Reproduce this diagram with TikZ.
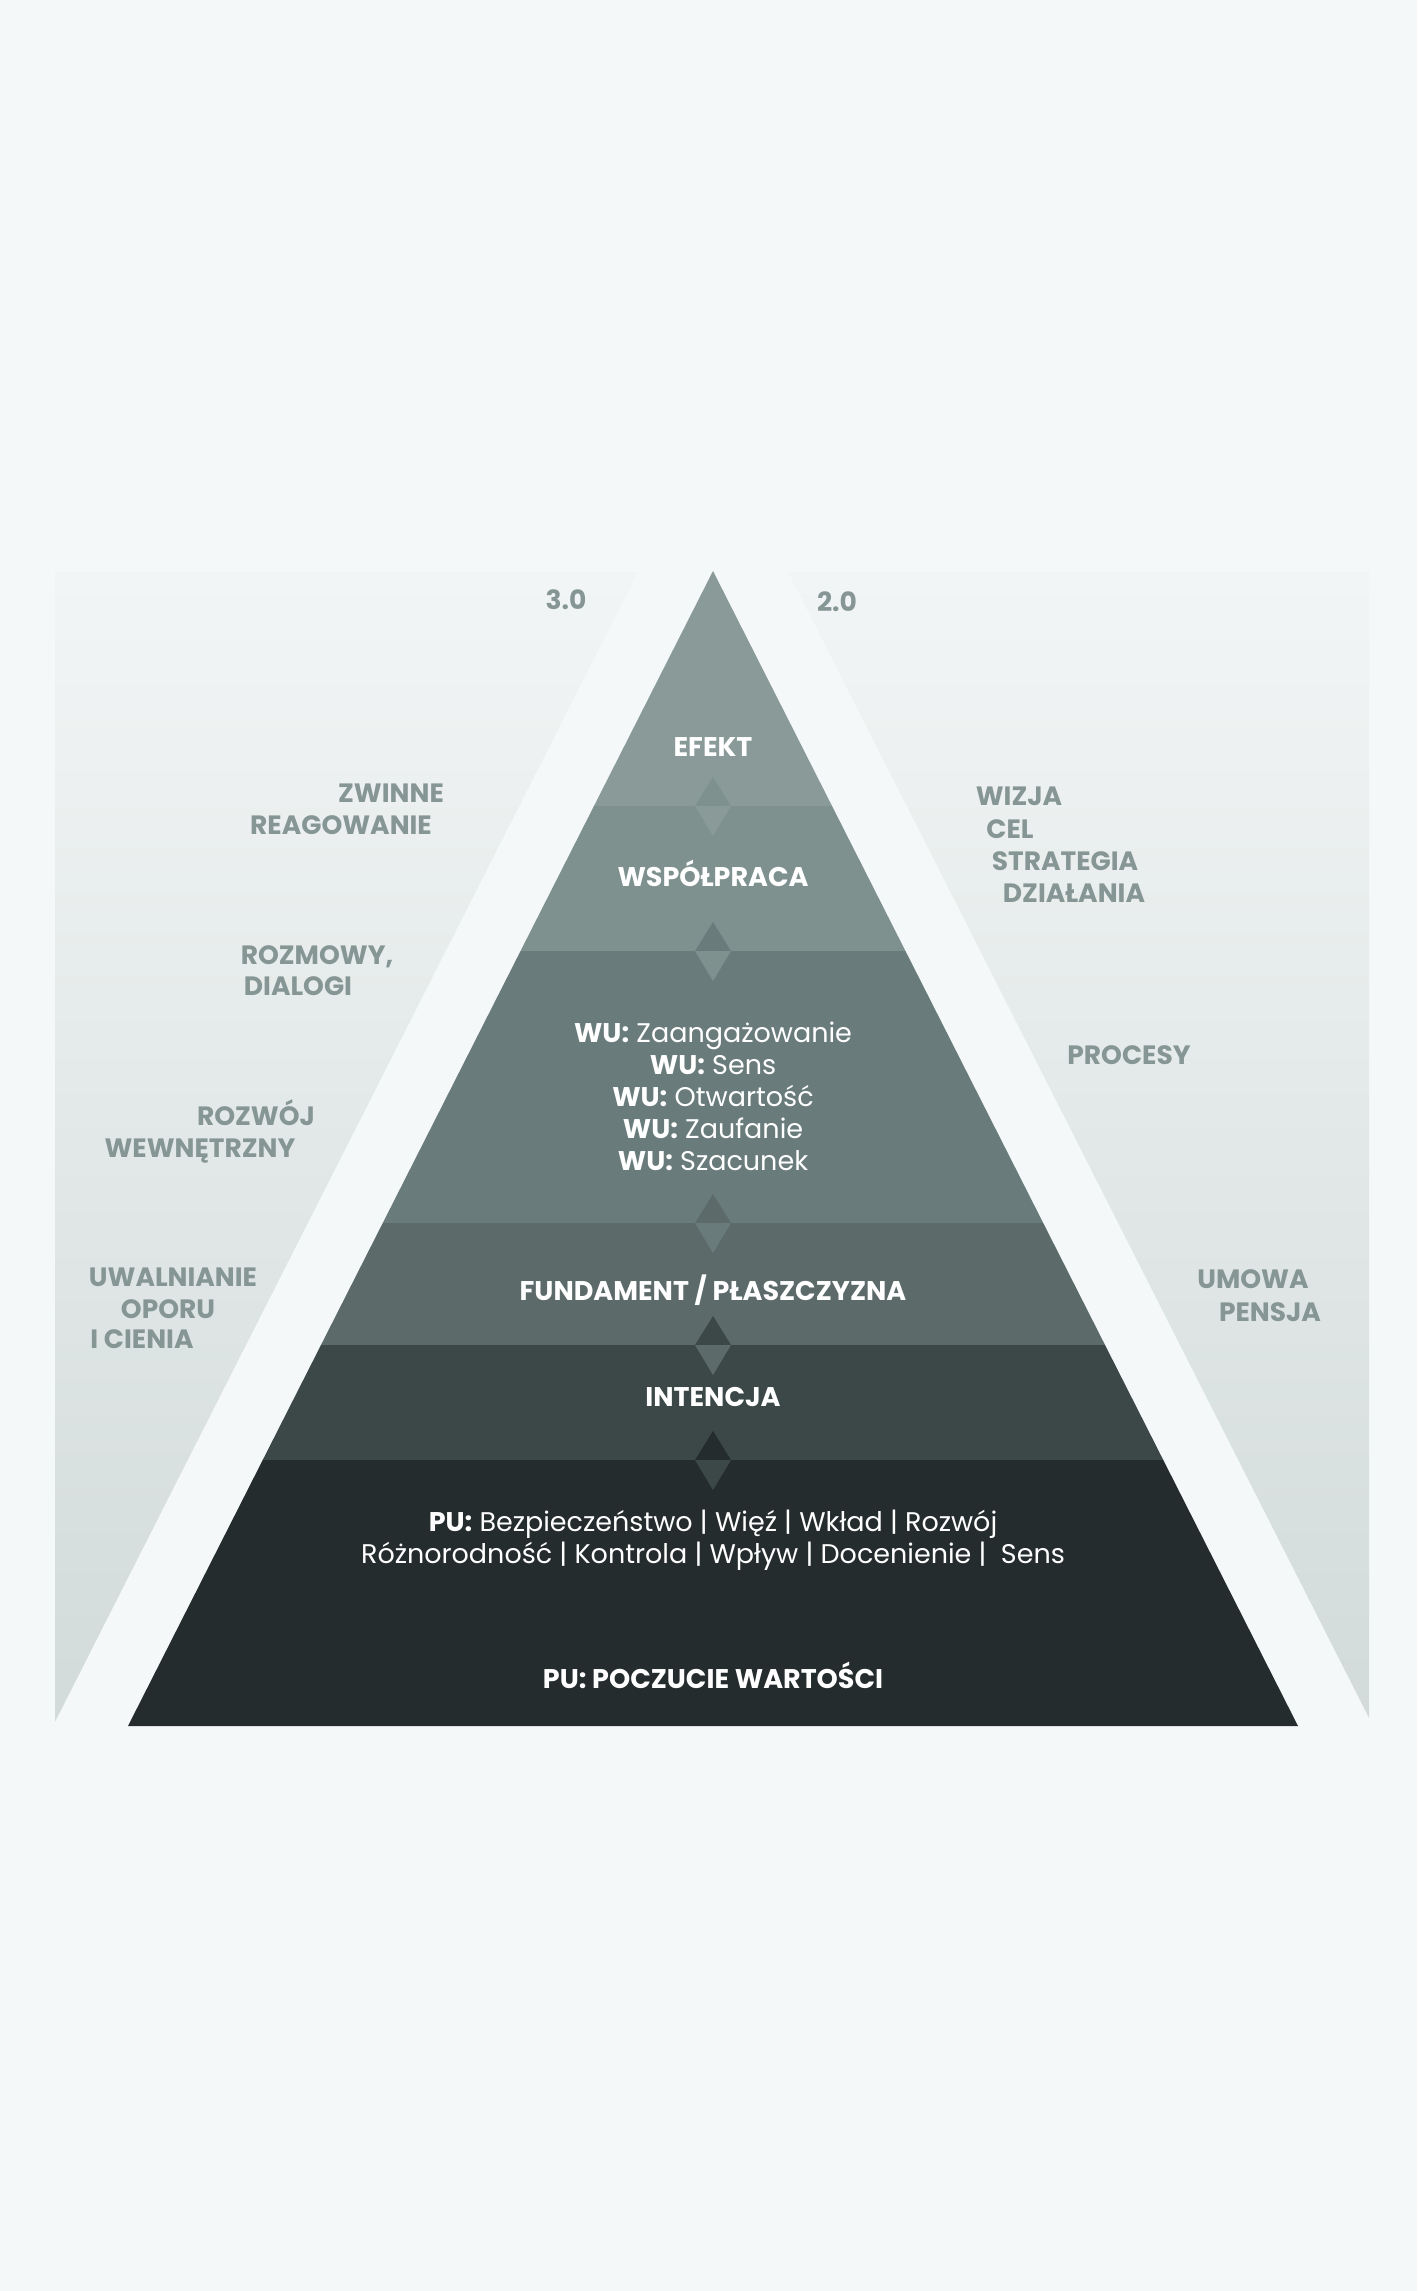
\documentclass[tikz,border=0pt]{standalone}
\usepackage{fontspec}
\setmainfont{Poppins}
\usetikzlibrary{positioning}

\definecolor{pagebg}{RGB}{245,248,248}
\definecolor{panetop}{RGB}{242,245,245}
\definecolor{panebot}{RGB}{210,219,218}
\definecolor{sidegray}{RGB}{134,150,148}
\definecolor{lvlA}{RGB}{137,154,152}
\definecolor{lvlB}{RGB}{127,145,143}
\definecolor{lvlC}{RGB}{106,123,124}
\definecolor{lvlD}{RGB}{92,106,106}
\definecolor{lvlE}{RGB}{60,71,71}
\definecolor{lvlF}{RGB}{37,44,45}

\begin{document}
\begin{tikzpicture}
[x=1pt,y=-1pt,
 lvltxt/.style={text=white,font=\fontsize{27}{32}\selectfont\bfseries,align=center},
 itemtxt/.style={text=white,font=\fontsize{27}{32}\selectfont,align=center},
 side/.style={text=sidegray,font=\fontsize{26.5}{32}\selectfont\bfseries,
   text height=18pt,text depth=0pt,inner sep=0pt}]
\useasboundingbox (0,0) rectangle (1417,2291);
\fill[pagebg] (0,0) rectangle (1417,2291);
\shade[top color=panetop,bottom color=panebot] (55,572) rectangle (1369,1722);
\fill[pagebg] (713,424) -- (1375,1730) -- (51,1730) -- cycle;
\begin{scope}
\clip (713,571) -- (1298,1726) -- (128,1726) -- cycle;
\fill[lvlA] (100,560) rectangle (1320,806);
\fill[lvlB] (100,806) rectangle (1320,951);
\fill[lvlC] (100,951) rectangle (1320,1223);
\fill[lvlD] (100,1223) rectangle (1320,1345);
\fill[lvlE] (100,1345) rectangle (1320,1460);
\fill[lvlF] (100,1460) rectangle (1320,1730);
\end{scope}
\foreach \yb/\up/\dn in {806/lvlB/lvlA,951/lvlC/lvlB,1223/lvlD/lvlC,1345/lvlE/lvlD,1460/lvlF/lvlE}{
  \fill[\up] (695,\yb) -- (713,\yb-29) -- (731,\yb) -- cycle;
  \fill[\dn] (695,\yb) -- (713,\yb+30) -- (731,\yb) -- cycle;
}

\node[lvltxt] (efekt) at (713,747) {EFEKT};
\node[lvltxt] (wspol) at (713,873) {WSPÓŁPRACA};
\node[itemtxt] (wu) at (713,1096) {\textbf{WU:} Zaangażowanie\\\textbf{WU:} Sens\\\textbf{WU:} Otwartość\\\textbf{WU:} Zaufanie\\\textbf{WU:} Szacunek};
\node[lvltxt] (fund) at (713,1290) {FUNDAMENT / PŁASZCZYZNA};
\node[lvltxt] (intencja) at (713,1397) {INTENCJA};
\node[itemtxt] (pu) at (713,1540) {\textbf{PU:} Bezpieczeństwo | Więź | Wkład | Rozwój\\Różnorodność | Kontrola | Wpływ | Docenienie | ~Sens};
\node[lvltxt] (wartosc) at (713,1675) {PU: POCZUCIE WARTOŚCI};

\node[side] (v3) at (566,600) {3.0};
\node[side] (v2) at (837,602) {2.0};
\node[side] (zwinne) at (391,793) {ZWINNE};
\node[side] (reag) at (341,825) {REAGOWANIE};
\node[side] (rozmowy) at (317,955) {ROZMOWY,};
\node[side] (dialogi) at (298,986) {DIALOGI};
\node[side] (rozwoj) at (256,1116) {ROZWÓJ};
\node[side] (wewn) at (200,1148) {WEWNĘTRZNY};
\node[side] (uwaln) at (173,1277) {UWALNIANIE};
\node[side] (oporu) at (168,1309) {OPORU};
\node[side] (cienia) at (142,1339) {I CIENIA};
\node[side] (wizja) at (1019,796) {WIZJA};
\node[side] (cel) at (1010,829) {CEL};
\node[side] (strat) at (1065,861) {STRATEGIA};
\node[side] (dzial) at (1074,893) {DZIAŁANIA};
\node[side] (procesy) at (1129,1055) {PROCESY};
\node[side] (umowa) at (1253,1279) {UMOWA};
\node[side] (pensja) at (1270,1312) {PENSJA};
\end{tikzpicture}
\end{document}
